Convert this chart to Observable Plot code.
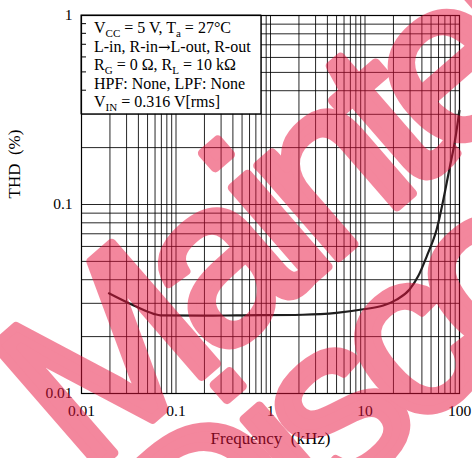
<!DOCTYPE html>
<html>
<head>
<meta charset="utf-8">
<script src="https://cdn.jsdelivr.net/npm/d3@7"></script>
<script src="https://cdn.jsdelivr.net/npm/@observablehq/plot@0.6"></script>
<style>
  html, body { margin: 0; padding: 0; background: #fff; }
  #chart { width: 472px; height: 458px; overflow: hidden; }
</style>
</head>
<body>
<div id="chart"></div>
<script>
// ---- data ----
const freqKHz = [0.0195, 0.0357, 0.058, 0.0685, 0.2, 0.436, 2.2, 5.0, 9.6, 15.6, 21.6, 29.6, 36.6, 45.0, 57.3, 78.8, 89.6, 99.8];
const thdPct  = [0.0339, 0.0292, 0.0264, 0.0259, 0.0258, 0.0259, 0.0261, 0.0267, 0.0279, 0.0292, 0.0314, 0.0355, 0.0418, 0.0532, 0.0738, 0.157, 0.218, 0.314];

const xTicks = [0.01, 0.1, 1, 10, 100];
const xTickLabels = ["0.01", "0.1", "1", "10", "100"];
const yTicks = [0.01, 0.1, 1];
const yTickLabels = ["0.01", "0.1", "1"];

const xTitle = "Frequency\u00a0 (kHz)";
const yTitle = "THD\u00a0 (%)";

const noteLines = [
  [["V", ""], ["CC", "sub"], [" = 5 V, T", ""], ["a", "sub"], [" = 27°C", ""]],
  [["L-in, R-in", ""], ["\u2192", "sym"], ["L-out, R-out", ""]],
  [["R", ""], ["G", "sub"], [" = 0 \u03a9, R", ""], ["L", "sub"], [" = 10 k\u03a9", ""]],
  [["HPF: None, LPF: None", ""]],
  [["V", ""], ["IN", "sub"], [" = 0.316 V[rms]", ""]]
];
const noteBox = [{x1: 0.01, x2: 0.8, y1: 0.3, y2: 1}];

const watermarkLines = ["Maintenance", "Discontinued"];

// grid values from the log scales
const xGrid = d3.scaleLog().domain([0.01, 100]).ticks();
const yGrid = d3.scaleLog().domain([0.01, 1]).ticks();

const curve = freqKHz.map((f, i) => ({f, t: thdPct[i]}));

const plot = Plot.plot({
  width: 472,
  height: 458,
  marginLeft: 81,
  marginRight: 13,
  marginTop: 15,
  marginBottom: 65,
  style: {fontFamily: "'Liberation Serif', 'Times New Roman', serif", fontSize: "15.5px", color: "#000", background: "#fff"},
  x: {type: "log", domain: [0.01, 100], ticks: xTicks, tickFormat: d => xTickLabels[xTicks.indexOf(d)], tickSize: 0, tickPadding: 11, label: null},
  y: {type: "log", domain: [0.01, 1], ticks: yTicks, tickFormat: d => yTickLabels[yTicks.indexOf(d)], tickSize: 0, tickPadding: 9, label: null},
  marks: [
    Plot.ruleX(xGrid, {stroke: "#000", strokeWidth: 1, strokeOpacity: 0.85}),
    Plot.ruleY(yGrid, {stroke: "#000", strokeWidth: 1, strokeOpacity: 0.85}),
    Plot.rect(noteBox, {x1: "x1", x2: "x2", y1: "y1", y2: "y2", fill: "#fff", stroke: "#000", strokeWidth: 1}),
    Plot.frame({stroke: "#000", strokeWidth: 1.2}),
    Plot.line(curve, {x: "f", y: "t", stroke: "#1e1e1e", strokeWidth: 2.2, curve: "monotone-x"}),
    Plot.text([xTitle], {frameAnchor: "bottom", dy: 50, fontSize: 17}),
    Plot.text([yTitle], {frameAnchor: "left", dx: -67, dy: -6, rotate: -90, fontSize: 17})
  ]
});

document.getElementById("chart").appendChild(plot);

const svg = d3.select(plot);
const xs = plot.scale("x"), ys = plot.scale("y");

// inward minor ticks on the left axis inside the note box
const x0 = xs.apply(0.01);
svg.append("g").selectAll("line")
  .data(yGrid.filter(v => v > 0.3 && v < 1))
  .join("line")
  .attr("x1", x0).attr("x2", x0 + 5)
  .attr("y1", d => ys.apply(d)).attr("y2", d => ys.apply(d))
  .attr("stroke", "#000").attr("stroke-width", 1);

// condition note
const note = svg.append("g")
  .attr("font-family", "'Liberation Serif', 'Times New Roman', serif")
  .attr("text-anchor", "start")
  .attr("font-size", 16).attr("fill", "#000")
  .style("white-space", "pre");
noteLines.forEach((parts, i) => {
  const t = note.append("text").attr("x", x0 + 13).attr("y", 33 + i * 18.5);
  let inSub = false;
  parts.forEach(([s, kind]) => {
    const ts = t.append("tspan").text(s);
    if (kind === "sub") { ts.attr("font-size", 11).attr("dy", inSub ? 0 : 4); inSub = true; }
    else {
      ts.attr("dy", inSub ? -4 : 0); inSub = false;
      if (kind === "sym") ts.attr("font-family", "'DejaVu Serif', 'DejaVu Sans', serif").attr("font-size", 15);
    }
  });
});

// watermark
const wm = svg.append("g").attr("opacity", 0.5)
  .attr("font-family", "'Liberation Sans', Arial, sans-serif")
  .attr("text-anchor", "start")
  .attr("font-size", 232)
  .attr("letter-spacing", -18)
  .attr("fill", "rgb(233,17,61)")
  .attr("stroke", "rgb(233,17,61)").attr("stroke-width", 9).attr("stroke-linejoin", "round");
wm.append("text").attr("transform", "translate(85,478) rotate(-41)").text(watermarkLines[0]);
wm.append("text").attr("transform", "translate(200,620) rotate(-41)").text(watermarkLines[1]);
</script>
</body>
</html>
